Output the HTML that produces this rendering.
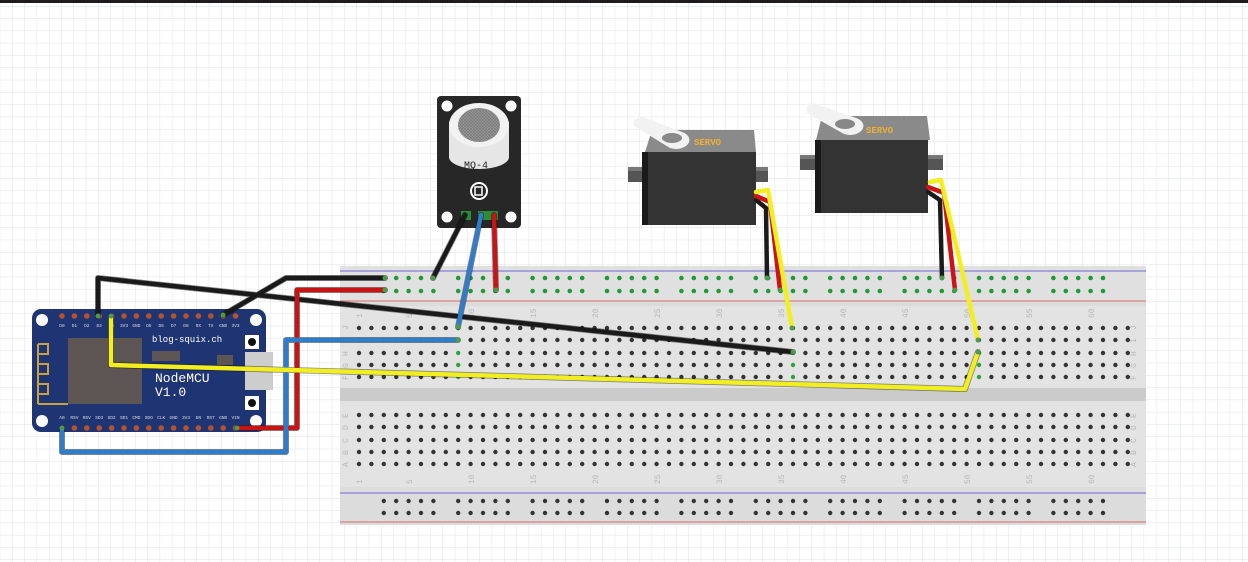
<!DOCTYPE html>
<html><head><meta charset="utf-8"><style>
html,body{margin:0;padding:0;background:#fff}
svg{display:block}
text{font-family:"Liberation Mono",monospace}
</style></head><body>
<svg id="s" width="1248" height="562" viewBox="0 0 1248 562" xmlns="http://www.w3.org/2000/svg">
<defs>
<pattern id="g" x="12" y="6" width="12.3" height="12.3" patternUnits="userSpaceOnUse">
<path d="M0 0H12.3M0 0V12.3" stroke="#dfe2e8" stroke-width="1" fill="none"/>
</pattern>
<pattern id="mesh" width="3" height="3" patternUnits="userSpaceOnUse">
<rect width="3" height="3" fill="#9a9a9a"/><path d="M0 0L3 3M3 0L0 3" stroke="#7a7a7a" stroke-width="0.7"/>
</pattern>
</defs>
<rect width="1248" height="562" fill="#fff"/>
<rect width="1248" height="562" fill="url(#g)"/>
<rect width="1248" height="3" fill="#1e1c1c"/>

<rect x="340" y="266" width="806" height="259" fill="#dcdcdc"/>
<rect x="340" y="266" width="806" height="36" fill="#e0e0e0"/>
<line x1="340" y1="271" x2="1146" y2="271" stroke="#6a6ad8" stroke-width="1"/>
<line x1="340" y1="301" x2="1146" y2="301" stroke="#d86a6a" stroke-width="1"/>
<rect x="340" y="306" width="806" height="82" fill="#e3e3e3"/>
<rect x="340" y="388" width="806" height="13" fill="#cbcbcb"/>
<rect x="340" y="401" width="806" height="86" fill="#e3e3e3"/>
<line x1="340" y1="493" x2="1146" y2="493" stroke="#6a6ad8" stroke-width="1"/>
<line x1="340" y1="522" x2="1146" y2="522" stroke="#d86a6a" stroke-width="1"/>
<g id="holes"></g>
<g font-size="8" fill="#b8b8b8">
<text x="1136" y="330" transform="rotate(-90 1136 330)">J</text>
<text x="1136" y="343" transform="rotate(-90 1136 343)">I</text>
<text x="1136" y="356" transform="rotate(-90 1136 356)">H</text>
<text x="1136" y="368" transform="rotate(-90 1136 368)">G</text>
<text x="1136" y="380" transform="rotate(-90 1136 380)">F</text>
<text x="1136" y="418" transform="rotate(-90 1136 418)">E</text>
<text x="1136" y="430" transform="rotate(-90 1136 430)">D</text>
<text x="1136" y="443" transform="rotate(-90 1136 443)">C</text>
<text x="1136" y="455" transform="rotate(-90 1136 455)">B</text>
<text x="1136" y="467" transform="rotate(-90 1136 467)">A</text>
<text x="348" y="330" transform="rotate(-90 348 330)">J</text>
<text x="348" y="343" transform="rotate(-90 348 343)">I</text>
<text x="348" y="356" transform="rotate(-90 348 356)">H</text>
<text x="348" y="368" transform="rotate(-90 348 368)">G</text>
<text x="348" y="380" transform="rotate(-90 348 380)">F</text>
<text x="348" y="418" transform="rotate(-90 348 418)">E</text>
<text x="348" y="430" transform="rotate(-90 348 430)">D</text>
<text x="348" y="443" transform="rotate(-90 348 443)">C</text>
<text x="348" y="455" transform="rotate(-90 348 455)">B</text>
<text x="348" y="467" transform="rotate(-90 348 467)">A</text>
</g>
<g font-size="8" fill="#b8b8b8">
<text x="362" y="318" transform="rotate(-90 362 318)">1</text>
<text x="412" y="318" transform="rotate(-90 412 318)">5</text>
<text x="474" y="318" transform="rotate(-90 474 318)">10</text>
<text x="536" y="318" transform="rotate(-90 536 318)">15</text>
<text x="598" y="318" transform="rotate(-90 598 318)">20</text>
<text x="660" y="318" transform="rotate(-90 660 318)">25</text>
<text x="722" y="318" transform="rotate(-90 722 318)">30</text>
<text x="784" y="318" transform="rotate(-90 784 318)">35</text>
<text x="846" y="318" transform="rotate(-90 846 318)">40</text>
<text x="908" y="318" transform="rotate(-90 908 318)">45</text>
<text x="970" y="318" transform="rotate(-90 970 318)">50</text>
<text x="1032" y="318" transform="rotate(-90 1032 318)">55</text>
<text x="1094" y="318" transform="rotate(-90 1094 318)">60</text>
<text x="362" y="484" transform="rotate(-90 362 484)">1</text>
<text x="412" y="484" transform="rotate(-90 412 484)">5</text>
<text x="474" y="484" transform="rotate(-90 474 484)">10</text>
<text x="536" y="484" transform="rotate(-90 536 484)">15</text>
<text x="598" y="484" transform="rotate(-90 598 484)">20</text>
<text x="660" y="484" transform="rotate(-90 660 484)">25</text>
<text x="722" y="484" transform="rotate(-90 722 484)">30</text>
<text x="784" y="484" transform="rotate(-90 784 484)">35</text>
<text x="846" y="484" transform="rotate(-90 846 484)">40</text>
<text x="908" y="484" transform="rotate(-90 908 484)">45</text>
<text x="970" y="484" transform="rotate(-90 970 484)">50</text>
<text x="1032" y="484" transform="rotate(-90 1032 484)">55</text>
<text x="1094" y="484" transform="rotate(-90 1094 484)">60</text>
</g>

<rect x="32" y="309" width="234" height="123" rx="9" fill="#1f3573"/>
<circle cx="42" cy="320" r="6" fill="#fff"/><circle cx="256" cy="320" r="6" fill="#fff"/>
<circle cx="42" cy="421" r="6" fill="#fff"/><circle cx="256" cy="421" r="6" fill="#fff"/>
<rect x="68" y="338" width="74" height="66" fill="#5d5553"/>
<path d="M38 404V344M38 404H68M38 344h10v10h-10v10h10v10h-10v10h10v10h-10" stroke="#c8a040" stroke-width="2" fill="none"/>
<rect x="152" y="351" width="28" height="10" fill="#5d5553"/>
<rect x="217" y="355" width="16" height="10" fill="#5d5553"/>
<rect x="245" y="352" width="28" height="38" fill="#cdcdcd"/>
<rect x="245" y="335" width="14" height="14" fill="#fff"/><circle cx="252" cy="342" r="4" fill="#111"/>
<rect x="245" y="396" width="14" height="14" fill="#fff"/><circle cx="252" cy="403" r="4" fill="#111"/>
<text x="152" y="342" font-size="9" fill="#fff">blog-squix.ch</text>
<text x="155" y="382" font-size="13" fill="#fff">NodeMCU</text>
<text x="155" y="396" font-size="13" fill="#fff">V1.0</text>
<g id="pins"></g>

<rect x="437" y="96" width="84" height="132" rx="4" fill="#272727"/>
<circle cx="447" cy="106" r="5.5" fill="#fff"/><circle cx="511" cy="106" r="5.5" fill="#fff"/>
<circle cx="447" cy="217" r="5.5" fill="#fff"/><circle cx="511" cy="217" r="5.5" fill="#fff"/>
<path d="M449 122v35a30 12 0 0 0 60 0v-35z" fill="#e6e6e6"/>
<ellipse cx="479" cy="125" rx="30" ry="22" fill="#f2f2f2"/>
<ellipse cx="479" cy="125" rx="21" ry="17" fill="url(#mesh)"/>
<text x="464" y="168" font-size="10" fill="#222" font-family="Liberation Sans">MQ-4</text>
<circle cx="479" cy="191" r="8" fill="none" stroke="#fff" stroke-width="2"/>
<rect x="475" y="187" width="7" height="8" fill="none" stroke="#fff" stroke-width="1.5"/>
<rect x="461" y="211" width="10" height="9" fill="#2e8b3a"/><rect x="478" y="211" width="20" height="9" fill="#2e8b3a"/>

<rect x="628" y="167" width="140" height="15" fill="#555"/>
<rect x="628" y="167" width="140" height="4" fill="#777"/>
<path d="M645 152L652 130H754L756 152Z" fill="#8a8a8a"/>
<rect x="642" y="152" width="114" height="73" fill="#333"/>
<rect x="642" y="152" width="6" height="73" fill="#1a1a1a"/>
<path d="M634 120L640 116L682 132a12 8 0 0 1-12 16L634 126Z" fill="#f2f2f2"/>
<ellipse cx="672" cy="138" rx="10" ry="5" fill="#888"/>
<text x="694" y="145" font-size="9" font-weight="bold" fill="#f0b030" font-family="Liberation Sans">SERVO</text>
<rect x="800" y="155" width="143" height="15" fill="#555"/>
<rect x="800" y="155" width="143" height="4" fill="#777"/>
<path d="M816 140L822 116H927L930 140Z" fill="#8a8a8a"/>
<rect x="815" y="140" width="113" height="73" fill="#333"/>
<rect x="815" y="140" width="6" height="73" fill="#1a1a1a"/>
<path d="M807 107L813 103L856 118a12 8 0 0 1-12 16L807 113Z" fill="#f2f2f2"/>
<ellipse cx="845" cy="124" rx="10" ry="5" fill="#888"/>
<text x="866" y="133" font-size="9" font-weight="bold" fill="#f0b030" font-family="Liberation Sans">SERVO</text>

<g fill="none" stroke-linejoin="round" stroke-linecap="round">
<g stroke="#000" stroke-width="6" opacity="0.45">
<polyline points="98,316 98,278 793,352"/>
<polyline points="223,315 286,278 385,278"/>
<polyline points="465,215 433,278"/>
<polyline points="237,428 297,428 297,290 385,290"/>
<polyline points="494,215 496,290"/>
<polyline points="62,428 62,452 286,452 286,340 458,340"/>
<polyline points="481,215 458,327"/>
<polyline points="111,316 111,365 965,389 978,352"/>
</g>
<g stroke="#1a1a1a" stroke-width="4.5">
<polyline points="98,316 98,278 793,352"/>
<polyline points="223,315 286,278 385,278"/>
<polyline points="465,215 433,278"/>
<polyline points="756,200 766,208 767,278"/>
<polyline points="928,192 940,200 942,278"/>
</g>
<g stroke="#c81414" stroke-width="4.5">
<polyline points="237,428 297,428 297,290 385,290"/>
<polyline points="494,215 496,290"/>
<polyline points="756,196 770,202 780,290"/>
<polyline points="928,187 944,193 955,290"/>
</g>
<g stroke="#2f7cc8" stroke-width="4.5">
<polyline points="62,428 62,452 286,452 286,340 458,340"/>
<polyline points="481,215 458,327"/>
</g>
<g stroke="#f2ee20" stroke-width="4.5">
<polyline points="111,316 111,365 965,389 978,352"/>
<polyline points="756,192 768,190 792,328"/>
<polyline points="930,182 941,180 978,340"/>
</g>
</g>
<g id="ends"></g>
</svg>
<script>
var NS="http://www.w3.org/2000/svg";
function c(p,x,y,r,f){var e=document.createElementNS(NS,"circle");e.setAttribute("cx",x);e.setAttribute("cy",y);e.setAttribute("r",r);e.setAttribute("fill",f);document.getElementById(p).appendChild(e);}
var rowsT=[328,340,353,365,377],rowsB=[415,427,440,452,464];
for(var i=0;i<63;i++){var x=359+i*12.4;
 rowsT.forEach(function(y){var g=(i==8&&y>330)||(i==50&&y>345)||(i==35&&y>345);c("holes",x,y,2.2,g?"#2fa33a":"#333");});
 rowsB.forEach(function(y){c("holes",x,y,2.2,"#333");});
}
for(var i=2;i<61;i++){if((i-2)%6==5)continue;var x=359+i*12.4;
 c("holes",x,278,2.3,"#1f9a34");c("holes",x,291,2.3,"#1f9a34");
 c("holes",x,501,2.2,"#333");c("holes",x,513,2.2,"#333");}
for(var i=0;i<15;i++){var x=62+i*12.4;
 c("pins",x,316,2.8,"#b5532e");c("pins",x,428,2.8,"#b5532e");}
var lbl=["D0","D1","D2","D3","D4","3V3","GND","D5","D6","D7","D8","RX","TX","GND","3V3"];
var lb2=["A0","RSV","RSV","SD3","SD2","SD1","CMD","SDO","CLK","GND","3V3","EN","RST","GND","VIN"];
for(var i=0;i<15;i++){var t=document.createElementNS(NS,"text");t.setAttribute("x",62+i*12.4);t.setAttribute("y",327);t.setAttribute("font-size","4.5");t.setAttribute("fill","#ddd");t.setAttribute("text-anchor","middle");t.textContent=lbl[i];document.getElementById("pins").appendChild(t);
 var u=t.cloneNode();u.setAttribute("y",419);u.textContent=lb2[i];document.getElementById("pins").appendChild(u);}
[[98,316],[111,316],[223,315],[62,428],[237,428],[385,278],[385,290],[433,278],[496,290],[458,327],[458,340],[793,352],[767,278],[780,290],[792,328],[942,278],[955,290],[978,340],[978,352]].forEach(function(p){c("ends",p[0],p[1],2.5,"#4c9a4c");});
</script>
</body></html>
